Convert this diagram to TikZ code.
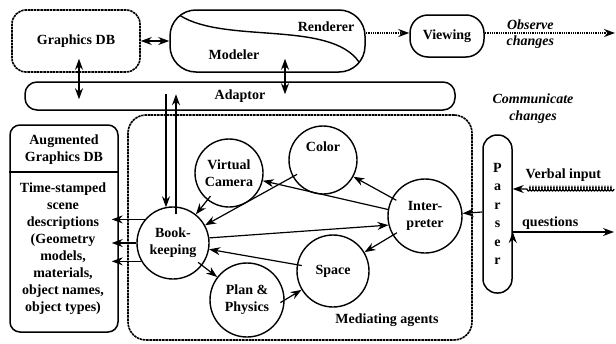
\documentclass[tikz,border=0pt]{standalone}
\usepackage{fontspec}
\setmainfont{Liberation Serif}
\usetikzlibrary{arrows.meta,calc,decorations.pathmorphing}
\tikzset{
    store/.style =  {rectangle,
                    rounded corners=14pt,
                    draw=black,
                    line width=1.6pt,
                    dash pattern=on 2.5pt off 0.7pt,
                    text=black,
                    font=\bfseries\fontsize{14}{17}\selectfont},
    pill/.style =   {rectangle,
                    rounded corners=12pt,
                    draw=black,
                    line width=1.5pt,
                    text=black,
                    align=center,
                    font=\bfseries\fontsize{14}{17}\selectfont},
    agent/.style =  {circle,
                    draw=black,
                    line width=1.4pt,
                    text=black,
                    align=center,
                    inner sep=0pt,
                    font=\bfseries\fontsize{14}{17}\selectfont},
    lbl/.style =    {text=black,
                    align=center,
                    inner sep=1pt,
                    font=\bfseries\fontsize{14}{17}\selectfont},
    note/.style =   {text=black,
                    align=center,
                    inner sep=1pt,
                    font=\bfseries\itshape\fontsize{14}{17}\selectfont},
    -,
    link/.style =   {draw=black, line width=1.2pt},
    dotlink/.style = {line width=1.8pt, dash pattern=on 1pt off 0.8pt},
    coiled/.style = {decorate,
                    decoration={coil, amplitude=2pt, segment length=3pt,
                                aspect=0.4, post length=13pt}},
    inside/.style = {shorten <=-5pt},
    tip/.tip = {Stealth[length=11pt,width=8pt]}}

\begin{document}
\begin{tikzpicture}[x=1pt,y=-1pt,>=tip]
    \useasboundingbox (0,0) rectangle (616,343);

    % stores and top row
    \node[store, minimum width=128pt, minimum height=62pt]  (gdb)     at (76,41)    {Graphics DB};
    \node[pill, rounded corners=26pt, minimum width=195pt, minimum height=62pt] (modren) at (267.5,41) {};
    \node[lbl]  (renderer) at (326,27)  {Renderer};
    \node[lbl]  (modeler)  at (234,55)  {Modeler};
    \draw[line width=1.4pt] (180,15.5) .. controls (225,44) and (330,20) .. (359,62);
    \node[pill, rounded corners=18pt, minimum width=74pt, minimum height=42pt] (viewing) at (447,36) {Viewing};
    \coordinate (obs) at (615,33);
    \node[pill, minimum width=430pt, minimum height=28pt] (adaptor) at (240,96) {Adaptor};
    \node[note] (comm) at (533,109) {Communicate\\changes};

    % augmented store
    \node[pill, rounded corners=10pt, minimum width=108pt, minimum height=207pt] (aug) at (64,228.5) {};
    \node[lbl]  (augtitle) at (64,150) {Augmented\\Graphics DB};
    \node[lbl]  (augbody)  at (63,249) {Time-stamped\\scene\\descriptions\\(Geometry\\models,\\materials,\\object names,\\object types)};
    \draw[line width=1.5pt] (aug.west |- 0,172) -- (aug.east |- 0,172);

    % mediating agents
    \node[store, rounded corners=18pt, minimum width=344pt, minimum height=225pt] (mediate) at (300,227.5) {};
    \node[lbl]  (medlabel) at (387,320) {Mediating agents};
    \node[agent, minimum size=72pt] (book)   at (173,243) {Book-\\keeping};
    \node[agent, minimum size=68pt] (camera) at (229,173) {Virtual\\Camera};
    \node[agent, minimum size=68pt] (color)  at (323,160) {Color\\[10pt]};
    \node[agent, minimum size=74pt] (interp) at (425,216) {Inter-\\preter};
    \node[agent, minimum size=72pt] (space)  at (333,271) {Space};
    \node[agent, minimum size=74pt] (plan)   at (247,300) {Plan \&\\Physics};

    % parser
    \node[pill, rounded corners=14pt, minimum width=29pt, minimum height=158pt,
          font=\bfseries\fontsize{14}{18.5}\selectfont] (parser) at (497.5,214) {P\\a\\r\\s\\e\\r};
    \coordinate (verb)  at (614,189);
    \coordinate (quest) at (614,232);

    \path [link]    (gdb) edge [<->] (modren)
                    ($(gdb.south)+(3,-14)$) edge [<->] ($(adaptor.north -| gdb.south)+(3,18)$)
                    ($(modren.south)+(17.5,-14)$) edge [<->] ($(adaptor.north -| modren.south)+(17.5,13)$)
                    ($(adaptor.north -| book.north)+(-7,13)$) edge [->] ($(book.north)+(-7,1)$)
                    ($(book.north)+(3,8)$) edge [->] ($(adaptor.north -| book.north)+(3,13)$)
                    ($(modren.east)+(0,-8)$) edge [->,dotlink] ($(viewing.west)+(0,-3)$)
                    ($(viewing.east)+(0,-3)$) edge [->,dotlink]
                        node [note, pos=0.35, above=1pt] {Observe}
                        node [note, pos=0.35, below=1pt] {changes} (obs);

    \path [link,->] (book.140)  edge ($(aug.east |- book.140)+(-7,0)$)
                    (book.180)  edge ($(aug.east |- book.180)+(-7,0)$)
                    (book.-150) edge ($(aug.east |- book.-150)+(-7,0)$)
                    (camera)    edge [inside] (book)
                    (color)     edge [inside] (book)
                    (interp.170) edge (camera)
                    (book.8)    edge (interp.194)
                    (interp)    edge [inside] (color)
                    (interp)    edge [inside] (space)
                    (space)     edge [inside] (book)
                    (book)      edge [inside] (plan)
                    (plan.0)    edge [inside] (space)
                    ($(parser.west)+(0,-2)$) edge (interp)
                    (verb)      edge [coiled]
                        node [lbl, above=6pt] {Verbal input} ($(parser.east)+(0,-25)$)
                    ($(parser.east)+(0,18)$) edge
                        node [lbl, pos=0.37, above=1pt] {questions} (quest);
\end{tikzpicture}
\end{document}
